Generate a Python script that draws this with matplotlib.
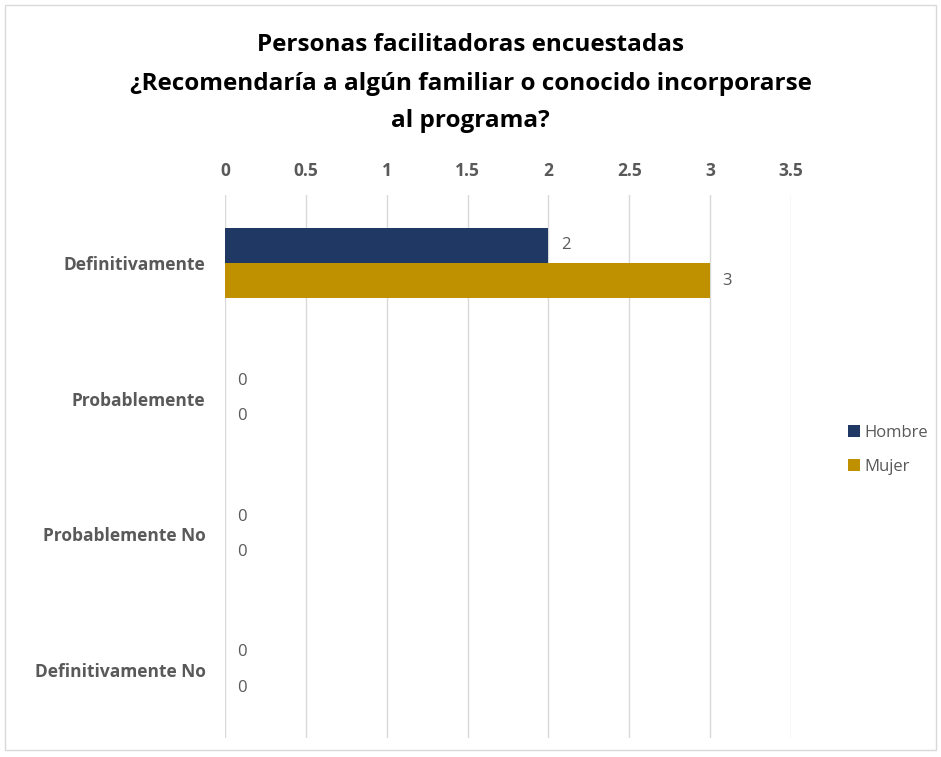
import numpy as np
import matplotlib.pyplot as plt
from matplotlib.patches import Rectangle

categories = ['Definitivamente', 'Probablemente', 'Probablemente No', 'Definitivamente No']
hombre = [2, 0, 0, 0]
mujer = [3, 0, 0, 0]
series_names = ['Hombre', 'Mujer']
xticks = [0, 0.5, 1, 1.5, 2, 2.5, 3, 3.5]

navy = '#1F3864'
gold = '#BF9000'
grey = '#595959'

plt.rcParams['font.family'] = ['Open Sans', 'DejaVu Sans']

fig = plt.figure(figsize=(9.41, 7.57), dpi=100)
# axes area in pixels: x 225..791, y 195..738
ax = fig.add_axes([225 / 941, 1 - 738 / 757, (791 - 225) / 941, (738 - 195) / 757])

y = np.arange(len(categories))
h = 0.26
b1 = ax.barh(y - h / 2, hombre, height=h, color=navy, label=series_names[0])
b2 = ax.barh(y + h / 2, mujer, height=h, color=gold, label=series_names[1])

for bars in (b1, b2):
    for bar in bars:
        w = bar.get_width()
        ax.annotate('%g' % w, (w, bar.get_y() + bar.get_height() / 2),
                    xytext=(9, 0), textcoords='offset points',
                    va='center', ha='left', fontsize=12, color=grey)

ax.set_xlim(0, 3.5)
ax.set_ylim(len(categories) - 0.5, -0.5)
ax.set_xticks(xticks)
ax.set_xticklabels(['%g' % t for t in xticks], fontsize=12.5, fontweight='bold', color=grey)
ax.set_yticks(y)
ax.set_yticklabels(categories, fontsize=12.5, fontweight='bold', color=grey)
ax.xaxis.tick_top()
ax.tick_params(axis='x', length=0, pad=11)
ax.tick_params(axis='y', length=0, pad=14)
ax.grid(axis='x', color='#D9D9D9', linewidth=1)
ax.set_axisbelow(True)
for s in ax.spines.values():
    s.set_visible(False)

title_lines = ['Personas facilitadoras encuestadas',
               '¿Recomendaría a algún familiar o conocido incorporarse',
               'al programa?']
for line, ypix in zip(title_lines, [45, 84, 121]):
    fig.text(0.5, 1 - ypix / 757, line, ha='center', va='center',
             fontsize=17.5, fontweight='bold', color='black')

fig.legend(handles=[b1, b2], loc='center left', bbox_to_anchor=(833 / 941, 1 - 450 / 757),
           frameon=False, fontsize=12, labelcolor=grey, handlelength=0.7, handleheight=0.7,
           handletextpad=0.3, labelspacing=1.1)

fig.patches.append(Rectangle((5 / 941, 1 - 750 / 757), 931 / 941, 745 / 757,
                             transform=fig.transFigure, fill=False, edgecolor='#D9D9D9', linewidth=1))

fig.savefig('out.png', dpi=100, facecolor='white')
